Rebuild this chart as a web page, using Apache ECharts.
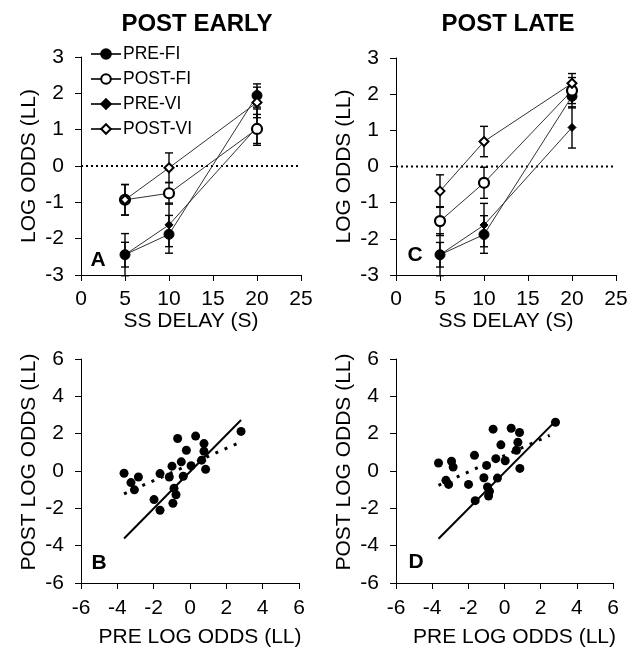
<!DOCTYPE html>
<html>
<head>
<meta charset="utf-8">
<script src="https://cdn.jsdelivr.net/npm/echarts@6/dist/echarts.min.js"></script>
<style>html,body{margin:0;padding:0;background:#fff;}#c{width:643px;height:663px;}</style>
</head>
<body>
<div id="c"></div>
<script>
// ---------- DATA ----------
const delays = [5, 10, 20];
const delayTicks = [0, 5, 10, 15, 20, 25];
// Panel A (POST EARLY)
const A_preFI = [-2.44, -1.88, 1.94];   const A_preFI_err = [0.58, 0.52, 0.32];
const A_postFI = [-0.93, -0.75, 1.02];  const A_postFI_err = [0.42, 0.30, 0.40];
const A_preVI = [-2.44, -1.62, 1.07];   const A_preVI_err = [0.34, 0.60, 0.50];
const A_postVI = [-0.93, -0.05, 1.75];  const A_postVI_err = [0.42, 0.41, 0.42];
// Panel C (POST LATE)
const C_preFI = [-2.44, -1.88, 1.94];   const C_preFI_err = [0.58, 0.52, 0.32];
const C_postFI = [-1.51, -0.45, 2.10];  const C_postFI_err = [0.40, 0.43, 0.36];
const C_preVI = [-2.44, -1.62, 1.08];   const C_preVI_err = [0.34, 0.60, 0.57];
const C_postVI = [-0.68, 0.69, 2.30];   const C_postVI_err = [0.45, 0.42, 0.27];
// Panel B scatter (pre vs post-early)
const B_pre  = [-3.63,-3.25,-3.06,-2.84,-1.65,-1.98,-1.65,-1.14,-0.99,-0.88,-0.77,-0.94,-0.68,-0.48,-0.37,-0.20,0.06,0.31,0.64,0.77,0.77,0.86,2.81];
const B_post = [-0.12,-0.62,-1.01,-0.32,-0.14,-1.53,-2.10,-0.32,0.26,-0.93,-1.27,-1.73,1.74,0.49,-0.28,1.11,0.28,1.87,0.58,1.47,1.06,0.09,2.12];
const B_solidX = [-3.63, 2.81]; const B_solidY = [-3.62, 2.73];
const B_dotX = [-3.63, 2.57];   const B_dotY = [-1.22, 1.46];
// Panel D scatter (pre vs post-late)
const D_pre  = [-3.65,-3.24,-3.09,-2.93,-2.84,-1.99,-1.66,-1.62,-1.14,-0.99,-0.94,-0.83,-0.88,-0.63,-0.48,-0.39,-0.20,0.04,0.37,0.66,0.74,0.83,0.85,2.82];
const D_post = [0.43,-0.50,-0.72,0.52,0.21,-0.72,0.84,-1.59,-0.36,0.30,-0.86,-1.09,-1.34,2.24,0.66,-0.38,1.40,0.55,2.29,1.11,1.54,2.06,0.14,2.61];
const D_solidX = [-3.65, 2.82]; const D_solidY = [-3.63, 2.67];
const D_dotX = [-3.65, 2.50];   const D_dotY = [-0.77, 1.91];
const zeroX = [0, 25]; const zeroY = [0, 0];

// ---------- BUILD ----------
const FF = 'Liberation Sans, Arial, sans-serif';
const zip = (xs, ys) => xs.map((x, i) => [x, ys[i]]);
const zip3 = (xs, ys, es) => xs.map((x, i) => [x, ys[i], es[i]]);

const axisCommon = {
  axisLine: { onZero: false, lineStyle: { color: '#000', width: 1 } },
  axisTick: { show: true, length: 6, lineStyle: { color: '#000', width: 1 } },
  splitLine: { show: false },
  nameTextStyle: { color: '#000', fontSize: 21, fontFamily: FF },
};

function xDelay(gi) {
  return Object.assign({}, axisCommon, {
    type: 'value', gridIndex: gi, min: 0, max: 25, interval: 5,
    name: 'SS DELAY (S)', nameLocation: 'middle', nameGap: 31,
    axisLabel: { color: '#000', fontSize: 21, fontFamily: FF, margin: 14 }
  });
}
function yOdds(gi) {
  return Object.assign({}, axisCommon, {
    type: 'value', gridIndex: gi, min: -3, max: 3, interval: 1,
    name: 'LOG ODDS (LL)', nameLocation: 'middle', nameGap: 41,
    axisLabel: { color: '#000', fontSize: 21, fontFamily: FF, margin: 17 }
  });
}
function xPre(gi) {
  return Object.assign({}, axisCommon, {
    type: 'value', gridIndex: gi, min: -6, max: 6, interval: 2,
    name: 'PRE LOG ODDS (LL)', nameLocation: 'middle', nameGap: 44,
    nameTextStyle: { color: '#000', fontSize: 21, fontFamily: FF, padding: [0, 0, 0, 20] },
    axisLabel: { color: '#000', fontSize: 21, fontFamily: FF, margin: 15 }
  });
}
function yPost(gi) {
  return Object.assign({}, axisCommon, {
    type: 'value', gridIndex: gi, min: -6, max: 6, interval: 2,
    name: 'POST LOG ODDS (LL)', nameLocation: 'middle', nameGap: 41,
    nameTextStyle: { color: '#000', fontSize: 21, fontFamily: FF, padding: [0, 0, 0, 18] },
    axisLabel: { color: '#000', fontSize: 21, fontFamily: FF, margin: 17 }
  });
}

const styles = {
  'PRE-FI':  { symbol: 'circle',  symbolSize: 10, itemStyle: { color: '#000', borderColor: '#000', borderWidth: 1 } },
  'POST-FI': { symbol: 'circle',  symbolSize: 10, itemStyle: { color: '#fff', borderColor: '#000', borderWidth: 2.2 } },
  'PRE-VI':  { symbol: 'diamond', symbolSize: 8,  itemStyle: { color: '#000', borderColor: '#000', borderWidth: 1 } },
  'POST-VI': { symbol: 'diamond', symbolSize: 9,  itemStyle: { color: '#fff', borderColor: '#000', borderWidth: 2 } },
};

function lineSeries(name, vals, gi) {
  const s = styles[name];
  return {
    type: 'line', name: name, xAxisIndex: gi, yAxisIndex: gi,
    data: zip(delays, vals), symbol: s.symbol, symbolSize: s.symbolSize,
    showAllSymbol: true, itemStyle: s.itemStyle,
    lineStyle: { color: '#333', width: 1 }, emphasis: { disabled: true }, z: 3, animation: false
  };
}
function errSeries(vals, errs, gi) {
  return {
    type: 'custom', xAxisIndex: gi, yAxisIndex: gi, z: 2, animation: false, silent: true,
    data: zip3(delays, vals, errs), encode: { x: 0, y: 1 },
    renderItem: function (params, api) {
      const x = api.value(0), m = api.value(1), e = api.value(2);
      const t = api.coord([x, m + e]), b = api.coord([x, m - e]);
      const w = 4, st = { stroke: '#000', lineWidth: 1.4 };
      return { type: 'group', children: [
        { type: 'line', shape: { x1: t[0], y1: t[1], x2: b[0], y2: b[1] }, style: st },
        { type: 'line', shape: { x1: t[0] - w, y1: t[1], x2: t[0] + w, y2: t[1] }, style: st },
        { type: 'line', shape: { x1: b[0] - w, y1: b[1], x2: b[0] + w, y2: b[1] }, style: st },
      ]};
    }
  };
}
function zeroLine(gi) {
  return { type: 'line', xAxisIndex: gi, yAxisIndex: gi, data: zip(zeroX, zeroY), symbol: 'none',
    lineStyle: { color: '#000', width: 2, type: [2, 3] }, z: 1, silent: true, animation: false };
}
function plain(xs, ys, gi, dotted) {
  return { type: 'line', xAxisIndex: gi, yAxisIndex: gi, data: zip(xs, ys), symbol: 'none', silent: true, animation: false,
    lineStyle: dotted ? { color: '#000', width: 3, type: [3, 7] } : { color: '#000', width: 2 }, z: 2 };
}
function scatter(xs, ys, gi) {
  return { type: 'scatter', xAxisIndex: gi, yAxisIndex: gi, data: zip(xs, ys), symbol: 'circle', symbolSize: 9,
    itemStyle: { color: '#000', opacity: 1 }, z: 3, animation: false, silent: true };
}

const series = [
  zeroLine(0), zeroLine(1),
  errSeries(A_preVI, A_preVI_err, 0), errSeries(A_preFI, A_preFI_err, 0),
  errSeries(A_postFI, A_postFI_err, 0), errSeries(A_postVI, A_postVI_err, 0),
  errSeries(C_preVI, C_preVI_err, 1), errSeries(C_preFI, C_preFI_err, 1),
  errSeries(C_postFI, C_postFI_err, 1), errSeries(C_postVI, C_postVI_err, 1),
  lineSeries('PRE-VI', A_preVI, 0), lineSeries('PRE-FI', A_preFI, 0),
  lineSeries('POST-FI', A_postFI, 0), lineSeries('POST-VI', A_postVI, 0),
  lineSeries('PRE-VI', C_preVI, 1), lineSeries('PRE-FI', C_preFI, 1),
  lineSeries('POST-FI', C_postFI, 1), lineSeries('POST-VI', C_postVI, 1),
  scatter(B_pre, B_post, 2), plain(B_solidX, B_solidY, 2, false), plain(B_dotX, B_dotY, 2, true),
  scatter(D_pre, D_post, 3), plain(D_solidX, D_solidY, 3, false), plain(D_dotX, D_dotY, 3, true),
];

const option = {
  backgroundColor: '#fff',
  animation: false,
  grid: [
    { left: 81, top: 57, width: 220, height: 218 },
    { left: 396, top: 58, width: 220, height: 217 },
    { left: 81, top: 359, width: 218, height: 224 },
    { left: 396, top: 359, width: 217, height: 224 },
  ],
  xAxis: [xDelay(0), xDelay(1), xPre(2), xPre(3)],
  yAxis: [yOdds(0), yOdds(1), yPost(2), yPost(3)],
  legend: {
    data: ['PRE-FI', 'POST-FI', 'PRE-VI', 'POST-VI'],
    orient: 'vertical', left: 85, top: 40, itemWidth: 30, itemHeight: 12, itemGap: 7,
    textStyle: { color: '#000', fontSize: 17.5, fontFamily: FF, padding: [0, 0, 0, -3] },
    selectedMode: false
  },
  graphic: [
    { type: 'text', x: 197, y: 24, style: { text: 'POST EARLY', font: 'bold 24px ' + FF, fill: '#000', textAlign: 'center', textVerticalAlign: 'middle' } },
    { type: 'text', x: 508, y: 24, style: { text: 'POST LATE', font: 'bold 24px ' + FF, fill: '#000', textAlign: 'center', textVerticalAlign: 'middle' } },
    { type: 'text', x: 98, y: 260, style: { text: 'A', font: 'bold 21px ' + FF, fill: '#000', textAlign: 'center', textVerticalAlign: 'middle' } },
    { type: 'text', x: 415, y: 255, style: { text: 'C', font: 'bold 21px ' + FF, fill: '#000', textAlign: 'center', textVerticalAlign: 'middle' } },
    { type: 'text', x: 99, y: 563, style: { text: 'B', font: 'bold 21px ' + FF, fill: '#000', textAlign: 'center', textVerticalAlign: 'middle' } },
    { type: 'text', x: 416, y: 562, style: { text: 'D', font: 'bold 21px ' + FF, fill: '#000', textAlign: 'center', textVerticalAlign: 'middle' } },
  ],
  series: series
};

const chart = echarts.init(document.getElementById('c'), null, { renderer: 'canvas' });
chart.setOption(option);
</script>
</body>
</html>
